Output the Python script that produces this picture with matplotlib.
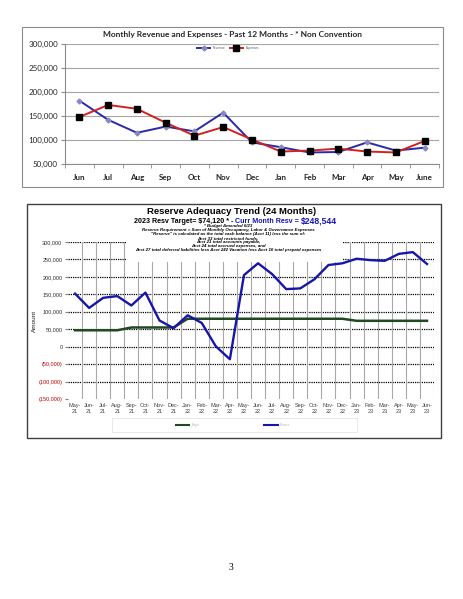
import matplotlib
matplotlib.use('Agg')
import matplotlib.pyplot as plt
from matplotlib.patches import Rectangle
from matplotlib.ticker import FuncFormatter
from matplotlib.lines import Line2D

W, H = 463, 599

# top chart data
months_12 = ['Jun', 'Jul', 'Aug', 'Sep', 'Oct', 'Nov', 'Dec', 'Jan', 'Feb', 'Mar', 'Apr', 'May', 'June']
revenue = [182000, 142000, 115000, 128000, 118000, 157000, 95000, 85000, 74000, 75000, 95000, 78000, 84000]
expenses = [148000, 173000, 165000, 136000, 109000, 127000, 101000, 76000, 78000, 82000, 76000, 74000, 98000]

# bottom chart data
months_24 = ['May-\n21', 'Jun-\n21', 'Jul-\n21', 'Aug-\n21', 'Sep-\n21', 'Oct-\n21', 'Nov-\n21', 'Dec-\n21',
             'Jan-\n22', 'Feb-\n22', 'Mar-\n22', 'Apr-\n22', 'May-\n22', 'Jun-\n22', 'Jul-\n22', 'Aug-\n22',
             'Sep-\n22', 'Oct-\n22', 'Nov-\n22', 'Dec-\n22', 'Jan-\n23', 'Feb-\n23', 'Mar-\n23', 'Apr-\n23',
             'May-\n23', 'Jun-\n23']
reserve = [152000, 111000, 140000, 145000, 118000, 155000, 75000, 53000, 90000, 68000, 1000, -36000, 205000,
           239000, 208000, 165000, 167000, 193000, 234000, 239000, 252000, 248000, 246000, 266000, 271000, 237000]
target = [47000, 47000, 47000, 47000, 55000, 55000, 55000, 55000, 80000, 80000, 80000, 80000, 80000,
          80000, 80000, 80000, 80000, 80000, 80000, 80000, 74120, 74120, 74120, 74120, 74120, 74120]

notes = ['* Budget Amended 6/23',
         'Reserve Requirement = Sum of Monthly Occupancy, Labor & Governance Expenses',
         '"Reserve" is calculated as the total cash balance (Acct 11) less the sum of:',
         'Acct 33 total restricted funds,',
         'Acct 21 total accounts payable,',
         'Acct 24 total accrued expenses, and',
         'Acct 27 total deferred liabilities less Acct 242 Vacation less Acct 16 total prepaid expenses']


def fx(p):
    return p / W


def fy(p):
    return 1 - p / H


fig = plt.figure(figsize=(W / 100, H / 100), dpi=100)

# ---------------- top chart ----------------
fig.patches.append(Rectangle((fx(22), fy(187)), fx(421), 160 / H, transform=fig.transFigure,
                             fill=False, edgecolor='#8c8c8c', lw=0.8))
ax1 = fig.add_axes([fx(65), fy(164), fx(374), 120 / H])
xs = range(len(months_12))
for v in range(50000, 300001, 50000):
    ax1.axhline(v, color='#a6a6a6', lw=0.8, zorder=1)
ax1.plot(xs, revenue, color='#2a2aa8', lw=1.4, marker='D', ms=2.5, mfc='#8888c4', mec='#8888c4',
         label='Revenue', zorder=3)
ax1.plot(xs, expenses, color='#d42020', lw=1.4, marker='s', ms=4.5, mfc='black', mec='black',
         label='Expenses', zorder=3)
ax1.set_xlim(-0.5, len(months_12) - 0.5)
ax1.set_ylim(50000, 300000)
ax1.set_yticks(range(50000, 300001, 50000))
ax1.yaxis.set_major_formatter(FuncFormatter(lambda v, p: '{:,.0f}'.format(v)))
ax1.set_xticks(list(xs))
ax1.set_xticklabels(months_12, fontweight='bold')
ax1.set_xticks([i - 0.5 for i in range(len(months_12) + 1)], minor=True)
ax1.tick_params(axis='x', which='major', length=0, pad=7)
ax1.tick_params(axis='x', which='minor', length=3, color='#8c8c8c')
ax1.tick_params(axis='y', length=3, color='#8c8c8c', pad=2)
for lab in ax1.get_xticklabels() + ax1.get_yticklabels():
    lab.set_fontfamily('Lato')
    lab.set_fontsize(5.8)
    lab.set_color('#262626')
for s in ['top', 'right']:
    ax1.spines[s].set_visible(False)
for s in ['left', 'bottom']:
    ax1.spines[s].set_color('#8c8c8c')
    ax1.spines[s].set_linewidth(0.8)
fig.text(fx(233), fy(35), 'Monthly Revenue and Expenses - Past 12 Months - * Non Convention',
         ha='center', va='center', fontsize=6, fontweight='bold', family='Lato', color='#262626')
fig.legend(loc='center', bbox_to_anchor=(fx(228), fy(48)), ncol=2, frameon=False,
           handlelength=4, columnspacing=1.5, labelcolor='#595959', prop={'family': 'Lato', 'size': 2.3})

# ---------------- bottom chart ----------------
fig.patches.append(Rectangle((fx(27), fy(438)), fx(414), 234 / H, transform=fig.transFigure,
                             fill=False, edgecolor='#404040', lw=1.0))
ax2 = fig.add_axes([fx(68), fy(399), fx(366), 157 / H])
xs2 = range(len(months_24))
for v in range(-100000, 300001, 50000):
    ax2.axhline(v, color='black', lw=0.9, ls=(0, (1, 0.8)), zorder=1)
for b in range(len(months_24)):
    ax2.axvline(b + 0.5, color='#a8a8a8', lw=0.8, zorder=1)
ax2.plot(xs2, target, color='#224a22', lw=1.8, zorder=4, label='Target')
ax2.plot(xs2, reserve, color='#1616a8', lw=1.7, zorder=4, label='Reserve')
ax2.set_xlim(-0.5, len(months_24) - 0.5)
ax2.set_ylim(-150000, 300000)
ax2.set_yticks(range(-150000, 300001, 50000))


def amt(v, p):
    if v < 0:
        return '({:,.0f})'.format(-v)
    return '{:,.0f}'.format(v)


ax2.yaxis.set_major_formatter(FuncFormatter(amt))
ax2.set_xticks(list(xs2))
ax2.set_xticklabels(months_24)
ax2.tick_params(axis='x', length=0, pad=3, labelsize=4, labelcolor='#404040')
ax2.tick_params(axis='y', length=2, color='#808080', pad=2, labelsize=4.0)
for t, v in zip(ax2.get_yticklabels(), ax2.get_yticks()):
    t.set_family('Liberation Sans')
    t.set_color('#c00000' if v < 0 else '#303030')
for t in ax2.get_xticklabels():
    t.set_family('Liberation Sans')
    t.set_linespacing(1.1)
for s in ax2.spines.values():
    s.set_visible(False)
ax2.set_ylabel('Amount', fontsize=4.6, family='Liberation Sans', labelpad=1, color='#202020')

# white panel behind the notes hides the grid there
ax2.add_patch(Rectangle((0.158, 0.873), 0.59, 0.2, transform=ax2.transAxes, facecolor='white',
                        edgecolor='none', zorder=2, clip_on=False))
ax2.text(fx(228), fy(238.5), '\n'.join(notes), transform=fig.transFigure, ha='center', va='center',
         fontsize=3.2, fontstyle='italic', fontweight='bold', family='Liberation Sans',
         linespacing=1.0, zorder=3, clip_on=False)

fig.text(fx(232), fy(212), 'Reserve Adequacy Trend (24 Months)', ha='center', va='center',
         fontsize=6.8, fontweight='bold', family='Liberation Sans', color='black')
t1 = fig.text(fx(134), fy(223), '2023 Resv Target= $74,120 * - ', ha='left', va='baseline',
              fontsize=5.1, fontweight='bold', family='Liberation Sans', color='black')
t2 = ax2.annotate('Curr Month Resv = ', xy=(1, 0), xycoords=t1, ha='left', va='bottom',
                  fontsize=5.1, fontweight='bold', family='Liberation Sans', color='#1616b0',
                  annotation_clip=False)
ax2.annotate('$248,544', xy=(1, 0), xycoords=t2, ha='left', va='bottom',
             fontsize=6.2, fontweight='bold', family='Liberation Sans', color='#1616b0',
             annotation_clip=False)

fig.patches.append(Rectangle((fx(112), fy(432)), fx(245), 14 / H, transform=fig.transFigure,
                             fill=False, edgecolor='#e4e4e4', lw=0.6))
h = [Line2D([], [], color='#224a22', lw=1.5), Line2D([], [], color='#1616a8', lw=1.5)]
fig.legend(h, ['Target', 'Reserve'], loc='center', bbox_to_anchor=(fx(233), fy(425)), ncol=2,
           frameon=False, handlelength=4.7, columnspacing=23.5, labelcolor='#b0b0b0',
           prop={'family': 'Liberation Sans', 'size': 2})

fig.text(fx(231), fy(567), '3', ha='center', va='center', fontsize=7, family='Liberation Serif')

fig.savefig('out.png', dpi=100)
